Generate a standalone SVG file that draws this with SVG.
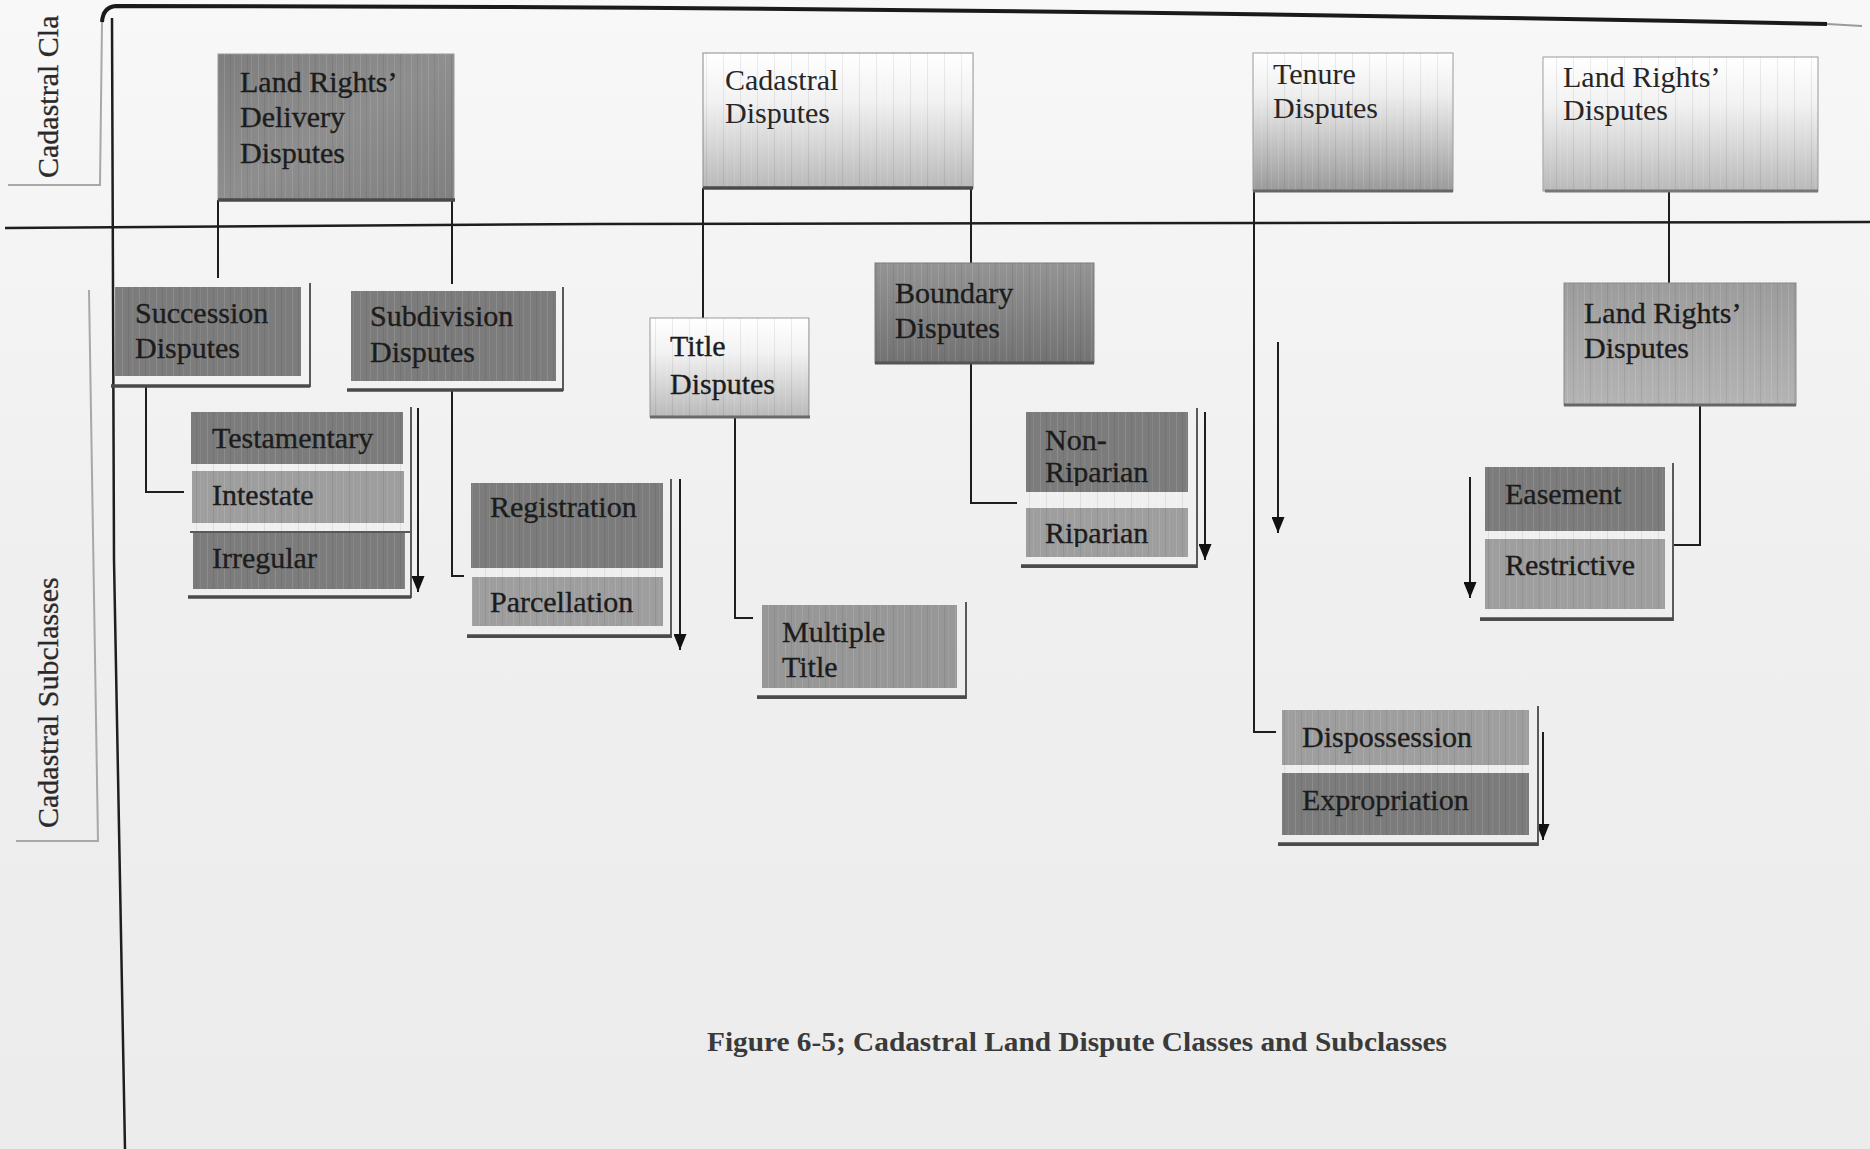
<svg xmlns="http://www.w3.org/2000/svg" width="1870" height="1149" viewBox="0 0 1870 1149">
  <style>
    .t { font-family: "Liberation Serif", "Times New Roman", serif; font-size: 30px; fill: #1c1c1c; stroke: #1c1c1c; stroke-width: 0.35px; }
    .tl { stroke-width: 0; fill: #262626; }
    .lbl { font-family: "Liberation Serif", "Times New Roman", serif; font-size: 30px; fill: #2a2a2a; stroke: #2a2a2a; stroke-width: 0.3px; }
    .cap { font-family: "Liberation Serif", "Times New Roman", serif; font-size: 27px; font-weight: bold; fill: #3a3a3a; }
    .conn { stroke: #1e1e1e; stroke-width: 2; fill: none; }
    .arrow { stroke: #1e1e1e; stroke-width: 2; fill: none; marker-end: url(#head); }
    .frame { stroke: #5a5a5a; stroke-width: 2; fill: none; }
    .base { stroke: #4a4a4a; stroke-width: 3.5; fill: none; }
    .edge { stroke: #9a9a9a; stroke-width: 1; }
    .dark { fill: #7c7c7c; }
    .mid { fill: #9e9e9e; }
    .tex { fill: url(#stripes); }
  </style>
  <defs>
    <linearGradient id="bg" x1="0" y1="0" x2="0" y2="1">
      <stop offset="0" stop-color="#f8f8f8"/>
      <stop offset="0.5" stop-color="#efefef"/>
      <stop offset="1" stop-color="#ececec"/>
    </linearGradient>
    <linearGradient id="gLight" x1="0" y1="0" x2="0" y2="1">
      <stop offset="0" stop-color="#ffffff"/>
      <stop offset="0.35" stop-color="#f2f2f2"/>
      <stop offset="1" stop-color="#b9b9b9"/>
    </linearGradient>
    <linearGradient id="gTenure" x1="0" y1="0" x2="0" y2="1">
      <stop offset="0" stop-color="#ffffff"/>
      <stop offset="0.3" stop-color="#eeeeee"/>
      <stop offset="1" stop-color="#9a9a9a"/>
    </linearGradient>
    <linearGradient id="gDarkTop" x1="0" y1="0" x2="1" y2="1">
      <stop offset="0" stop-color="#7e7e7e"/>
      <stop offset="0.5" stop-color="#8e8e8e"/>
      <stop offset="1" stop-color="#808080"/>
    </linearGradient>
    <linearGradient id="gBoundary" x1="0" y1="0" x2="0" y2="1">
      <stop offset="0" stop-color="#949494"/>
      <stop offset="1" stop-color="#727272"/>
    </linearGradient>
    <linearGradient id="gLRsub" x1="0" y1="0" x2="0" y2="1">
      <stop offset="0" stop-color="#9c9c9c"/>
      <stop offset="1" stop-color="#b4b4b4"/>
    </linearGradient>
    <pattern id="stripes" width="17" height="10" patternUnits="userSpaceOnUse">
      <rect x="3" y="0" width="1" height="10" fill="#ffffff" fill-opacity="0.12"/>
      <rect x="9" y="0" width="1" height="10" fill="#000000" fill-opacity="0.07"/>
      <rect x="13" y="0" width="1" height="10" fill="#ffffff" fill-opacity="0.08"/>
    </pattern>
    <marker id="head" viewBox="0 0 16 13" refX="16" refY="6.5" markerWidth="16" markerHeight="13" markerUnits="userSpaceOnUse" orient="auto">
      <path d="M0,0 L16,6.5 L0,13 z" fill="#111"/>
    </marker>
    <clipPath id="clipNR"><rect x="1026" y="412" width="162" height="74"/></clipPath>
    <clipPath id="clipRip"><rect x="1026" y="508" width="162" height="39"/></clipPath>
  </defs>

  <!-- page -->
  <rect x="0" y="0" width="1870" height="1149" fill="url(#bg)"/>

  <!-- layout rules: top border, band separator, left spine, band labels -->
  <g id="layout">
    <path d="M102 22 Q103 7 116 6 L500 7 Q1200 11 1827 24" stroke="#1a1a1a" stroke-width="4" fill="none"/>
    <path d="M1827 24 L1862 26" stroke="#9a9a9a" stroke-width="2" fill="none"/>
    <path d="M5 228 L600 224 L1870 222" stroke="#1e1e1e" stroke-width="2.5" fill="none"/>
    <path d="M112 18 L114 560 L125 1149" stroke="#1e1e1e" stroke-width="2.5" fill="none"/>
    <path d="M8 185 H100 L102 22" stroke="#a8a8a8" stroke-width="2" fill="none"/>
    <path d="M16 841 H98 L89 290" stroke="#a8a8a8" stroke-width="2" fill="none"/>
    <text class="lbl" transform="translate(58 178) rotate(-90)">Cadastral Cla</text>
    <text class="lbl" transform="translate(58 828) rotate(-90)">Cadastral Subclasses</text>
  </g>

  <!-- connectors -->
  <g id="connectors">
    <line class="conn" x1="218" y1="200" x2="218" y2="278"/>
    <line class="conn" x1="452" y1="200" x2="452" y2="284"/>
    <path class="conn" d="M146 386 V492 H184"/>
    <path class="conn" d="M452 390 V576 H464"/>
    <line class="conn" x1="703" y1="188" x2="703" y2="318"/>
    <line class="conn" x1="971" y1="188" x2="971" y2="263"/>
    <path class="conn" d="M735 417 V618 H753"/>
    <path class="conn" d="M971 363 V503 H1017"/>
    <path class="conn" d="M1254 189 V732 H1276"/>
    <line class="conn" x1="1669" y1="191" x2="1669" y2="283"/>
    <path class="conn" d="M1700 405 V545 H1674"/>
    <line class="arrow" x1="418" y1="408" x2="418" y2="592"/>
    <line class="arrow" x1="680" y1="479" x2="680" y2="650"/>
    <line class="arrow" x1="1205" y1="412" x2="1205" y2="560"/>
    <line class="arrow" x1="1278" y1="342" x2="1278" y2="533"/>
    <line class="arrow" x1="1470" y1="477" x2="1470" y2="598"/>
    <line class="arrow" x1="1543" y1="732" x2="1543" y2="840"/>
  </g>

  <!-- class level -->
  <g id="land-rights-delivery">
    <rect x="218" y="54" width="236" height="146" fill="url(#gDarkTop)" class="edge"/>
    <rect x="218" y="54" width="236" height="146" class="tex"/>
    <line class="base" x1="218" y1="200" x2="455" y2="200"/>
    <text class="t" x="240" y="92">Land Rights’</text>
    <text class="t" x="240" y="127">Delivery</text>
    <text class="t" x="240" y="163">Disputes</text>
  </g>
  <g id="cadastral">
    <rect x="703" y="53" width="270" height="135" fill="url(#gLight)" stroke="#8a8a8a" stroke-width="1"/>
    <rect x="703" y="53" width="270" height="135" class="tex"/>
    <line class="base" x1="703" y1="188" x2="973" y2="188"/>
    <text class="t tl" x="725" y="90">Cadastral</text>
    <text class="t tl" x="725" y="123">Disputes</text>
  </g>
  <g id="tenure">
    <rect x="1253" y="53" width="200" height="138" fill="url(#gTenure)" stroke="#9a9a9a" stroke-width="1"/>
    <rect x="1253" y="53" width="200" height="138" class="tex"/>
    <line x1="1253" y1="191" x2="1453" y2="191" stroke="#666" stroke-width="3"/>
    <text class="t tl" x="1273" y="84">Tenure</text>
    <text class="t tl" x="1273" y="118">Disputes</text>
  </g>
  <g id="land-rights">
    <rect x="1543" y="57" width="275" height="134" fill="url(#gLight)" stroke="#9a9a9a" stroke-width="1"/>
    <rect x="1543" y="57" width="275" height="134" class="tex"/>
    <line x1="1545" y1="191" x2="1818" y2="191" stroke="#777" stroke-width="3"/>
    <text class="t tl" x="1563" y="87">Land Rights’</text>
    <text class="t tl" x="1563" y="120">Disputes</text>
  </g>

  <!-- subclass level -->
  <g id="succession">
    <rect x="115" y="287" width="186" height="89" class="dark"/>
    <rect x="115" y="287" width="186" height="89" class="tex"/>
    <path class="frame" d="M310 283 V386 H111"/>
    <line class="base" x1="111" y1="386" x2="310" y2="386"/>
    <text class="t" x="135" y="323">Succession</text>
    <text class="t" x="135" y="358">Disputes</text>
  </g>
  <g id="subdivision">
    <rect x="351" y="291" width="205" height="90" class="dark"/>
    <rect x="351" y="291" width="205" height="90" class="tex"/>
    <path class="frame" d="M563 287 V390 H347"/>
    <line class="base" x1="347" y1="390" x2="563" y2="390"/>
    <text class="t" x="370" y="326">Subdivision</text>
    <text class="t" x="370" y="362">Disputes</text>
  </g>
  <g id="succession-types">
    <rect x="191" y="412" width="212" height="52" class="dark"/>
    <rect x="192" y="471" width="212" height="52" class="mid"/>
    <rect x="193" y="532" width="212" height="57" class="dark"/>
    <rect x="191" y="412" width="214" height="177" class="tex"/>
    <line x1="190" y1="532" x2="411" y2="532" stroke="#5a5a5a" stroke-width="2"/>
    <path class="frame" d="M411 407 V597 H188"/>
    <line class="base" x1="188" y1="597" x2="411" y2="597"/>
    <text class="t" x="212" y="448">Testamentary</text>
    <text class="t" x="212" y="505">Intestate</text>
    <text class="t" x="212" y="568">Irregular</text>
  </g>
  <g id="subdivision-types">
    <rect x="471" y="483" width="192" height="85" class="dark"/>
    <rect x="472" y="577" width="191" height="49" class="mid"/>
    <rect x="471" y="483" width="192" height="143" class="tex"/>
    <path class="frame" d="M671 479 V637 H467"/>
    <line class="base" x1="467" y1="636" x2="671" y2="636"/>
    <text class="t" x="490" y="517">Registration</text>
    <text class="t" x="490" y="612">Parcellation</text>
  </g>
  <g id="title">
    <rect x="650" y="318" width="159" height="99" fill="url(#gLight)" stroke="#9a9a9a" stroke-width="1"/>
    <rect x="650" y="318" width="159" height="99" class="tex"/>
    <line x1="650" y1="417" x2="810" y2="417" stroke="#6a6a6a" stroke-width="3"/>
    <text class="t" x="670" y="356">Title</text>
    <text class="t" x="670" y="394">Disputes</text>
  </g>
  <g id="multiple-title">
    <rect x="762" y="605" width="195" height="83" fill="#979797"/>
    <rect x="762" y="605" width="195" height="83" class="tex"/>
    <path class="frame" d="M966 602 V698 H757"/>
    <line class="base" x1="757" y1="697" x2="966" y2="697"/>
    <text class="t" x="782" y="642">Multiple</text>
    <text class="t" x="782" y="677">Title</text>
  </g>
  <g id="boundary">
    <rect x="875" y="263" width="219" height="100" fill="url(#gBoundary)" stroke="#7a7a7a" stroke-width="1"/>
    <rect x="875" y="263" width="219" height="100" class="tex"/>
    <line x1="875" y1="363" x2="1094" y2="363" stroke="#555" stroke-width="3"/>
    <text class="t" x="895" y="303">Boundary</text>
    <text class="t" x="895" y="338">Disputes</text>
  </g>
  <g id="boundary-types">
    <rect x="1026" y="412" width="162" height="80" class="dark"/>
    <rect x="1026" y="508" width="162" height="49" class="mid"/>
    <rect x="1026" y="412" width="162" height="145" class="tex"/>
    <path class="frame" d="M1197 408 V567 H1021"/>
    <line class="base" x1="1021" y1="566" x2="1197" y2="566"/>
    <text class="t" x="1045" y="450">Non-</text>
    <text class="t" x="1045" y="482" clip-path="url(#clipNR)">Riparian</text>
    <text class="t" x="1045" y="543" clip-path="url(#clipRip)">Riparian</text>
  </g>
  <g id="tenure-types">
    <rect x="1282" y="710" width="247" height="55" class="mid"/>
    <rect x="1282" y="773" width="247" height="62" class="dark"/>
    <rect x="1282" y="710" width="247" height="125" class="tex"/>
    <path class="frame" d="M1538 706 V845 H1278"/>
    <line class="base" x1="1278" y1="844" x2="1538" y2="844"/>
    <text class="t" x="1302" y="747">Dispossession</text>
    <text class="t" x="1302" y="810">Expropriation</text>
  </g>
  <g id="land-rights-sub">
    <rect x="1564" y="283" width="232" height="122" fill="url(#gLRsub)" stroke="#8a8a8a" stroke-width="1"/>
    <rect x="1564" y="283" width="232" height="122" class="tex"/>
    <line x1="1564" y1="405" x2="1796" y2="405" stroke="#666" stroke-width="3"/>
    <text class="t" x="1584" y="323">Land Rights’</text>
    <text class="t" x="1584" y="358">Disputes</text>
  </g>
  <g id="land-rights-types">
    <rect x="1485" y="467" width="180" height="64" class="dark"/>
    <rect x="1485" y="539" width="180" height="70" class="mid"/>
    <rect x="1485" y="467" width="180" height="142" class="tex"/>
    <path class="frame" d="M1673 463 V620 H1480"/>
    <line class="base" x1="1480" y1="619" x2="1673" y2="619"/>
    <text class="t" x="1505" y="504">Easement</text>
    <text class="t" x="1505" y="575">Restrictive</text>
  </g>

  <!-- caption -->
  <text class="cap" x="707" y="1051" textLength="740" lengthAdjust="spacingAndGlyphs">Figure 6-5; Cadastral Land Dispute Classes and Subclasses</text>
</svg>
